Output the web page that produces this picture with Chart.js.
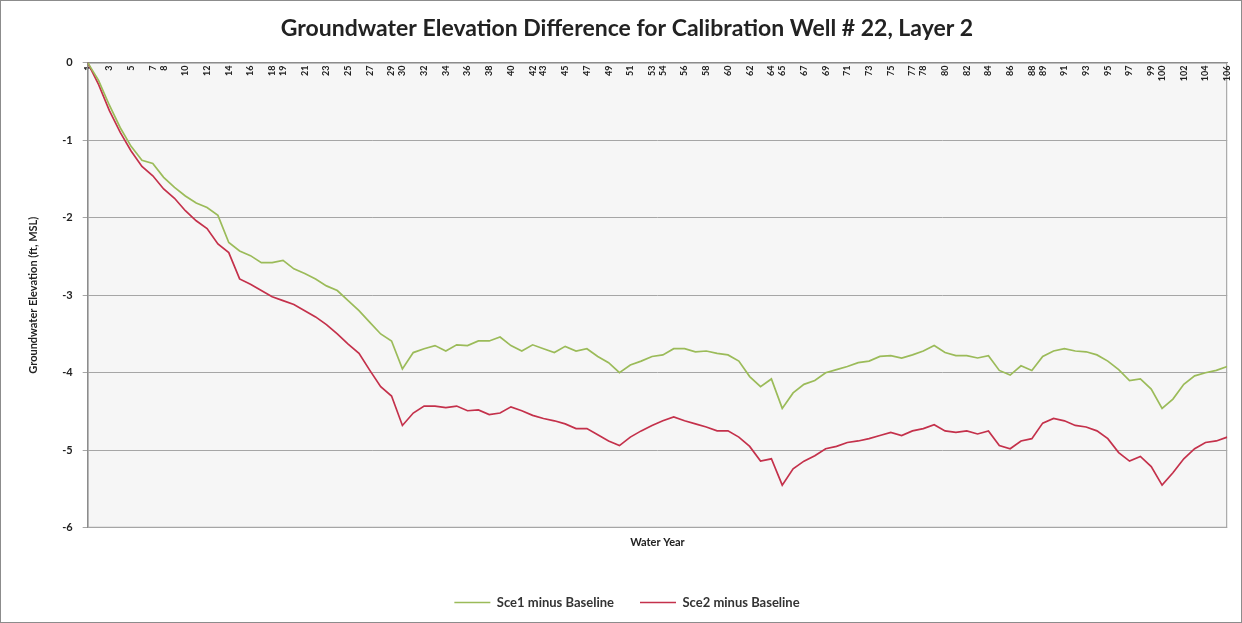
<!DOCTYPE html>
<html>
<head>
<meta charset="utf-8">
<script src="https://cdn.jsdelivr.net/npm/chart.js@4/dist/chart.umd.min.js"></script>
<style>
body { margin: 0; background: #fff; }
#wrap { width: 1240px; height: 621px; border: 1px solid #8c8c8c; position: relative; }
</style>
</head>
<body>
<div id="wrap"><canvas id="gwChart"></canvas></div>
<script>
// water year 1..106, one reading per year
const startYear = 1;

const sce1 = [
0, -0.23, -0.55, -0.84, -1.08, -1.26, -1.3, -1.48, -1.61, -1.72,
-1.81, -1.87, -1.97, -2.32, -2.43, -2.49, -2.58, -2.58, -2.55, -2.66,
-2.72, -2.79, -2.88, -2.94, -3.07, -3.2, -3.35, -3.5, -3.59, -3.95,
-3.74, -3.69, -3.65, -3.72, -3.64, -3.65, -3.59, -3.59, -3.54, -3.65,
-3.72, -3.64, -3.69, -3.74, -3.66, -3.72, -3.69, -3.79, -3.87, -4.0,
-3.9, -3.85, -3.79, -3.77, -3.69, -3.69, -3.73, -3.72, -3.75, -3.77,
-3.85, -4.05, -4.18, -4.08, -4.46, -4.26, -4.15, -4.1, -4.0, -3.96,
-3.92, -3.87, -3.85, -3.79, -3.78, -3.81, -3.77, -3.72, -3.65, -3.74,
-3.78, -3.78, -3.81, -3.78, -3.97, -4.03, -3.91, -3.97, -3.79, -3.72,
-3.69, -3.72, -3.73, -3.77, -3.85, -3.96, -4.1, -4.08, -4.21, -4.46,
-4.34, -4.15, -4.04, -4.0, -3.97, -3.92
];

const sce2 = [
0, -0.28, -0.62, -0.9, -1.14, -1.34, -1.46, -1.63, -1.75, -1.91,
-2.04, -2.14, -2.34, -2.45, -2.79, -2.86, -2.94, -3.02, -3.07, -3.12,
-3.2, -3.28, -3.38, -3.5, -3.63, -3.75, -3.97, -4.18, -4.3, -4.68,
-4.52, -4.43, -4.43, -4.45, -4.43, -4.49, -4.48, -4.54, -4.52, -4.44,
-4.49, -4.55, -4.59, -4.62, -4.66, -4.72, -4.72, -4.8, -4.88, -4.94,
-4.83, -4.75, -4.68, -4.62, -4.57, -4.62, -4.66, -4.7, -4.75, -4.75,
-4.83, -4.95, -5.14, -5.11, -5.45, -5.24, -5.14, -5.07, -4.98, -4.95,
-4.9, -4.88, -4.85, -4.81, -4.77, -4.81, -4.75, -4.72, -4.67, -4.75,
-4.77, -4.75, -4.79, -4.75, -4.94, -4.98, -4.88, -4.85, -4.65, -4.59,
-4.62, -4.68, -4.7, -4.75, -4.85, -5.03, -5.14, -5.08, -5.21, -5.45,
-5.29, -5.11, -4.98, -4.9, -4.88, -4.83
];

const tickYears = [
1, 3, 5, 7, 8, 10, 12, 14, 16, 18, 19, 21, 23, 25, 27, 29, 30, 32, 34, 36,
38, 40, 42, 43, 45, 47, 49, 51, 53, 54, 56, 58, 60, 62, 64, 65, 67, 69, 71, 73,
75, 77, 78, 80, 82, 84, 86, 88, 89, 91, 93, 95, 97, 99, 100, 102, 104, 106
];

const yTicks = [0, -1, -2, -3, -4, -5, -6];

const toPoints = arr => arr.map((v, i) => ({ x: startYear + i, y: v }));

const plotBg = {
  id: 'plotBg',
  beforeDraw(chart) {
    const { ctx, chartArea: a } = chart;
    ctx.save();
    ctx.fillStyle = '#f6f6f6';
    ctx.fillRect(a.left, a.top, a.right - a.left, a.bottom - a.top);
    ctx.strokeStyle = '#9a9a9a';
    ctx.lineWidth = 1;
    ctx.strokeRect(a.left + 0.5, a.top + 0.5, a.right - a.left - 1, a.bottom - a.top - 1);
    ctx.restore();
  }
};

new Chart(document.getElementById('gwChart'), {
  type: 'line',
  data: {
    datasets: [
      {
        label: 'Sce1 minus Baseline',
        data: toPoints(sce1),
        borderColor: '#9bbb59',
        backgroundColor: '#9bbb59',
        borderWidth: 1.7,
        pointRadius: 0,
        tension: 0
      },
      {
        label: 'Sce2 minus Baseline',
        data: toPoints(sce2),
        borderColor: '#c4314b',
        backgroundColor: '#c4314b',
        borderWidth: 1.7,
        pointRadius: 0,
        tension: 0
      }
    ]
  },
  options: {
    responsive: true,
    maintainAspectRatio: false,
    animation: false,
    layout: { padding: { top: 4, left: 22, right: 10, bottom: 3 } },
    plugins: {
      title: {
        display: true,
        text: 'Groundwater Elevation Difference for Calibration Well # 22, Layer 2',
        color: '#222',
        font: { family: 'Lato', size: 23, weight: 'bold' },
        padding: { top: 10, bottom: 20 }
      },
      legend: {
        position: 'bottom',
        labels: {
          color: '#333',
          font: { family: 'Lato', size: 13, weight: 'bold' },
          usePointStyle: true,
          pointStyle: 'line',
          pointStyleWidth: 36,
          padding: 26
        }
      },
      tooltip: { enabled: false }
    },
    scales: {
      x: {
        type: 'linear',
        min: 1,
        max: 106,
        position: { y: 0 },
        afterBuildTicks: s => { s.ticks = tickYears.map(v => ({ value: v })); },
        ticks: {
          autoSkip: false,
          minRotation: 90,
          maxRotation: 90,
          padding: 3,
          color: '#222',
          font: { family: 'Lato', size: 9, weight: 'bold' }
        },
        grid: { display: false, drawTicks: false },
        border: { display: true, color: '#8c8c8c' }
      },
      x2: {
        type: 'linear',
        min: 1,
        max: 106,
        position: 'bottom',
        ticks: { display: false },
        grid: { display: false, drawTicks: false },
        border: { display: false },
        title: {
          display: true,
          text: 'Water Year',
          color: '#222',
          font: { family: 'Lato', size: 11, weight: 'bold' },
          padding: { top: 8, bottom: 21 }
        }
      },
      y: {
        min: -6,
        max: 0,
        afterBuildTicks: s => { s.ticks = yTicks.map(v => ({ value: v })); },
        ticks: {
          color: '#222',
          font: { family: 'Lato', size: 11, weight: 'bold' },
          padding: 10
        },
        grid: { color: '#a6a6a6', tickLength: 5, tickColor: '#a6a6a6' },
        border: { display: true, color: '#8c8c8c' },
        title: {
          display: true,
          text: 'Groundwater Elevation (ft, MSL)',
          color: '#222',
          font: { family: 'Lato', size: 11, weight: 'bold' },
          padding: { bottom: 12 }
        }
      }
    }
  },
  plugins: [plotBg]
});
</script>
</body>
</html>
